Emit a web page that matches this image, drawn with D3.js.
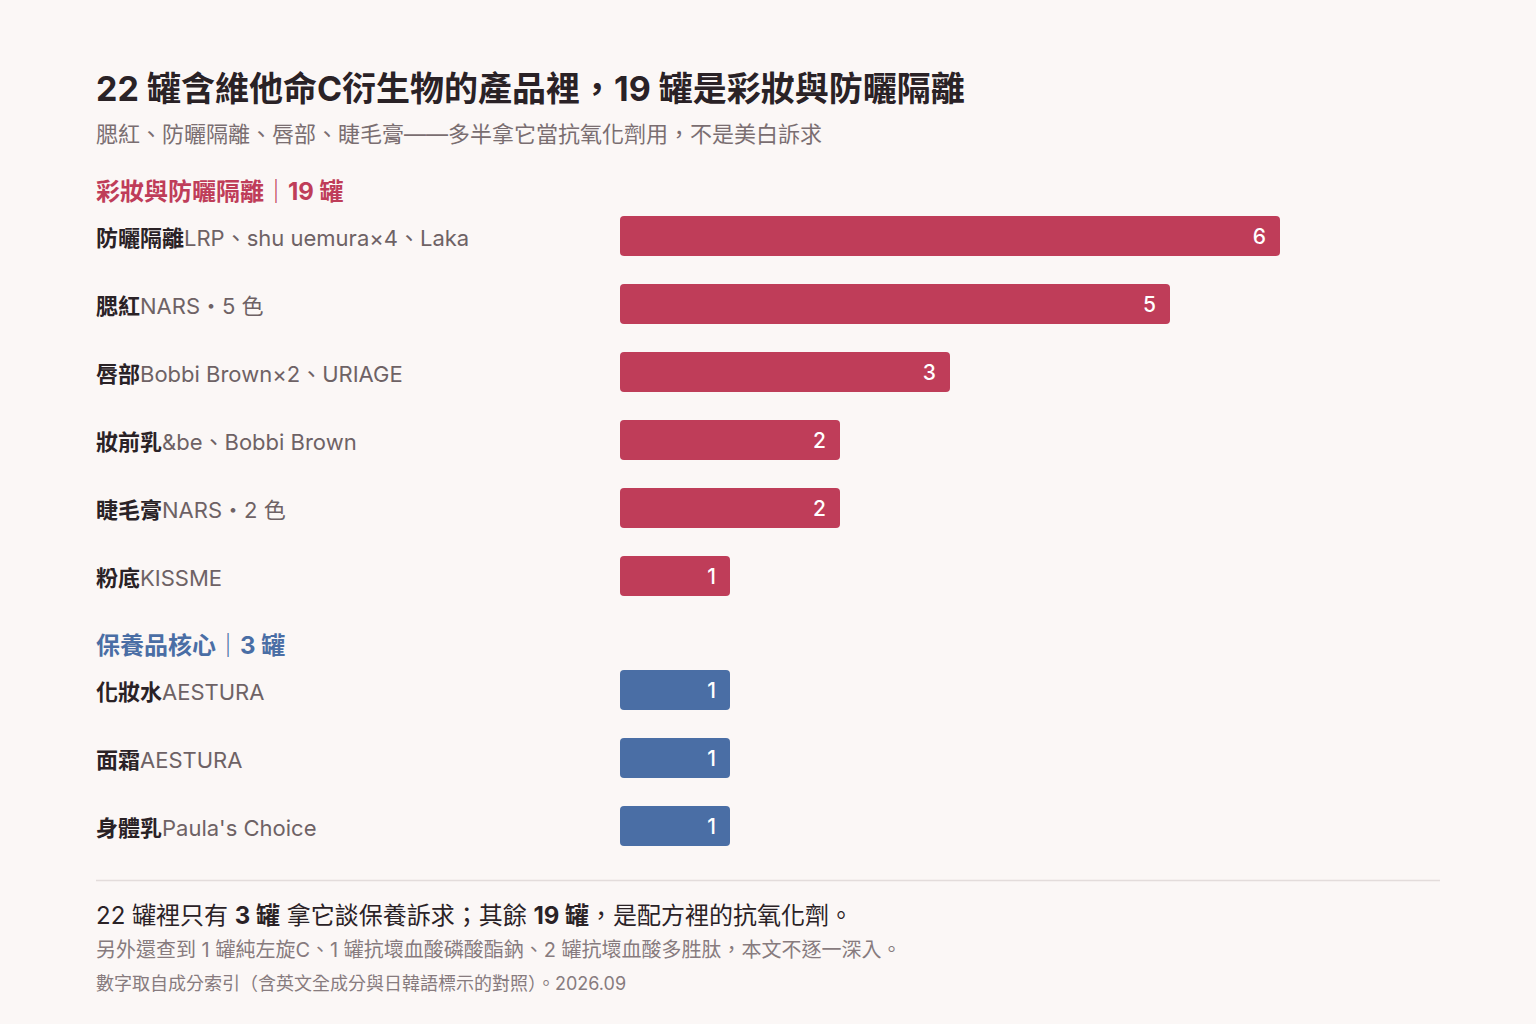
<!DOCTYPE html>
<html>
<head>
<meta charset="utf-8">
<script src="https://cdn.jsdelivr.net/npm/d3@7"></script>
<style>
  html, body { margin: 0; padding: 0; background: #fbf7f6; }
  svg { display: block; font-family: "Inter", "Noto Sans CJK TC", sans-serif; }
</style>
</head>
<body>
<svg id="chart" width="1536" height="1024"></svg>
<script>
// groups and their rows
const groupNames = ["彩妝與防曬隔離｜19 罐", "保養品核心｜3 罐"];
const groupKeys = ["makeup", "skincare"];

const categories = ["防曬隔離", "腮紅", "唇部", "妝前乳", "睫毛膏", "粉底", "化妝水", "面霜", "身體乳"];
const brands = ["LRP、shu uemura×4、Laka", "NARS・5 色", "Bobbi Brown×2、URIAGE", "&be、Bobbi Brown", "NARS・2 色", "KISSME", "AESTURA", "AESTURA", "Paula's Choice"];
const counts = [6, 5, 3, 2, 2, 1, 1, 1, 1];
const rowGroup = ["makeup", "makeup", "makeup", "makeup", "makeup", "makeup", "skincare", "skincare", "skincare"];

const colors = { makeup: "#bf3d59", skincare: "#4a6ea5" };

const svg = d3.select("#chart");

svg.append("rect").attr("width", 1536).attr("height", 1024).attr("fill", "#fbf7f6");

const left = 96;

// title + subtitle
svg.append("text")
  .attr("x", left).attr("y", 88)
  .attr("dominant-baseline", "central")
  .attr("font-size", 34).attr("font-weight", 700).attr("fill", "#2a2226")
  .text("22 罐含維他命C衍生物的產品裡，19 罐是彩妝與防曬隔離");

svg.append("text")
  .attr("x", left).attr("y", 134)
  .attr("dominant-baseline", "central")
  .attr("font-size", 22).attr("fill", "#7a6e71")
  .text("腮紅、防曬隔離、唇部、睫毛膏——多半拿它當抗氧化劑用，不是美白訴求");

const x = d3.scaleLinear().domain([0, 6]).range([620, 1280]);

// vertical layout: header, then rows
let cursor = 191;
const headers = [];
const rows = [];
groupKeys.forEach((g, gi) => {
  if (gi > 0) cursor += 69;
  headers.push({ key: g, name: groupNames[gi], y: cursor });
  let first = true;
  categories.forEach((c, i) => {
    if (rowGroup[i] !== g) return;
    cursor += first ? 45 : 68;
    first = false;
    rows.push({ cat: c, brand: brands[i], value: counts[i], group: g, y: cursor });
  });
});

svg.selectAll("text.group")
  .data(headers)
  .join("text")
  .attr("class", "group")
  .attr("x", left).attr("y", d => d.y)
  .attr("dominant-baseline", "central")
  .attr("font-size", 24).attr("font-weight", 700)
  .attr("fill", d => colors[d.key])
  .text(d => d.name);

const barH = 40;

const label = svg.selectAll("text.label")
  .data(rows)
  .join("text")
  .attr("class", "label")
  .attr("x", left).attr("y", d => d.y + 2)
  .attr("dominant-baseline", "central")
  .attr("font-size", 22);

label.append("tspan")
  .attr("font-weight", 700).attr("fill", "#2a2226")
  .text(d => d.cat);
label.append("tspan")
  .attr("fill", "#6e6265")
  .text(d => d.brand);

svg.selectAll("rect.bar")
  .data(rows)
  .join("rect")
  .attr("class", "bar")
  .attr("x", x(0))
  .attr("y", d => d.y - barH / 2)
  .attr("width", d => x(d.value) - x(0))
  .attr("height", barH)
  .attr("rx", 4)
  .attr("fill", d => colors[d.group]);

svg.selectAll("text.value")
  .data(rows)
  .join("text")
  .attr("class", "value")
  .attr("x", d => x(d.value) - 14)
  .attr("y", d => d.y)
  .attr("text-anchor", "end")
  .attr("dominant-baseline", "central")
  .attr("font-size", 21).attr("font-weight", 500)
  .attr("fill", "#ffffff")
  .text(d => d.value);

// footer
svg.append("line")
  .attr("x1", left).attr("x2", 1440)
  .attr("y1", 880.5).attr("y2", 880.5)
  .attr("stroke", "#e3dcdb").attr("stroke-width", 1.5);

const note = svg.append("text")
  .attr("x", left).attr("y", 915)
  .attr("dominant-baseline", "central")
  .attr("font-size", 24).attr("fill", "#2a2226");
[["22 罐裡只有 ", 400], ["3 罐", 700], [" 拿它談保養訴求；其餘 ", 400], ["19 罐", 700], ["，是配方裡的抗氧化劑。", 400]]
  .forEach(([t, w]) => note.append("tspan").attr("font-weight", w).text(t));

svg.append("text")
  .attr("x", left).attr("y", 950)
  .attr("dominant-baseline", "central")
  .attr("font-size", 20).attr("fill", "#877b7e")
  .text("另外還查到 1 罐純左旋C、1 罐抗壞血酸磷酸酯鈉、2 罐抗壞血酸多胜肽，本文不逐一深入。");

svg.append("text")
  .attr("x", left).attr("y", 983)
  .attr("dominant-baseline", "central")
  .attr("font-size", 18).attr("fill", "#877b7e")
  .text("數字取自成分索引（含英文全成分與日韓語標示的對照）。2026.09");
</script>
</body>
</html>
